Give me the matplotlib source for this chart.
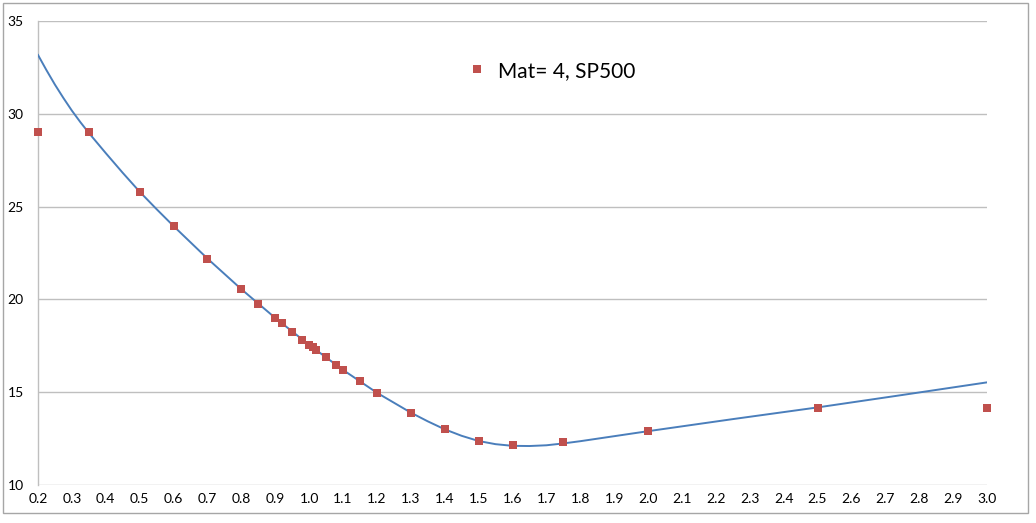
import matplotlib.pyplot as plt
from matplotlib.patches import Rectangle

# market points (red squares)
mkt_x = [0.2, 0.35, 0.5, 0.6, 0.7, 0.8, 0.85, 0.9, 0.92, 0.95, 0.98, 1.0, 1.01, 1.02,
         1.05, 1.08, 1.1, 1.15, 1.2, 1.3, 1.4, 1.5, 1.6, 1.75, 2.0, 2.5, 3.0]
mkt_y = [29.0, 29.0, 25.8, 23.95, 22.2, 20.55, 19.75, 19.0, 18.72, 18.25, 17.8, 17.52, 17.42, 17.27,
         16.88, 16.47, 16.2, 15.58, 14.97, 13.9, 13.02, 12.37, 12.17, 12.32, 12.91, 14.17, 14.17]

# fitted curve (blue line)
fit_x = [0.2, 0.225, 0.25, 0.275, 0.3, 0.325, 0.35, 0.4, 0.45, 0.5, 0.55, 0.6, 0.7, 0.8, 0.9,
         1.0, 1.1, 1.2, 1.3, 1.35, 1.4, 1.45, 1.5, 1.55, 1.6, 1.65, 1.7, 1.75, 1.8, 1.9,
         2.0, 2.25, 2.5, 2.75, 3.0]
fit_y = [33.17, 32.35, 31.57, 30.85, 30.17, 29.55, 28.97, 27.88, 26.82, 25.8, 24.86, 23.95, 22.2, 20.55, 19.0,
         17.55, 16.2, 14.97, 13.9, 13.43, 13.0, 12.65, 12.37, 12.2, 12.11, 12.1, 12.14, 12.24, 12.36, 12.63,
         12.9, 13.55, 14.18, 14.85, 15.53]

xticks = [round(0.2 + 0.1 * i, 1) for i in range(29)]
yticks = [10, 15, 20, 25, 30, 35]

plt.rcParams['font.family'] = ['Lato', 'DejaVu Sans']

fig = plt.figure(figsize=(10.36, 5.23), dpi=100)
ax = fig.add_axes([38 / 1036, 1 - 485 / 523, (987 - 38) / 1036, (485 - 21) / 523])

ax.plot(fit_x, fit_y, color='#4A7EBB', linewidth=1.4, zorder=3)
ax.plot(mkt_x, mkt_y, linestyle='none', marker='s', markersize=5.8, color='#C0504D',
        markeredgewidth=0, zorder=4, clip_on=False, label='Mat= 4, SP500')

ax.set_xlim(0.2, 3.0)
ax.set_ylim(10, 35)
ax.set_xticks(xticks)
ax.set_xticklabels([f'{t:.1f}' for t in xticks])
ax.set_yticks(yticks)
ax.tick_params(length=0, labelsize=10, colors='black')
ax.tick_params(axis='x', pad=6)
ax.tick_params(axis='y', pad=22)
for lab in ax.get_yticklabels():
    lab.set_horizontalalignment('left')

ax.grid(axis='y', color='#BFBFBF', linewidth=1)
ax.set_axisbelow(True)
for s in ['top', 'right', 'bottom']:
    ax.spines[s].set_visible(False)
ax.spines['left'].set_color('#BFBFBF')
ax.spines['left'].set_linewidth(1)

ax.legend(loc='upper left', bbox_to_anchor=(0.434, 0.955), frameon=False, fontsize=15,
          handlelength=0.8, handletextpad=0.6, markerscale=1.0)

# outer border of the chart
fig.patches.append(Rectangle((3 / 1036, 10 / 523), 1025 / 1036, 510 / 523, transform=fig.transFigure,
                             fill=False, edgecolor='#A6A6A6', linewidth=1))

fig.savefig('out.png', dpi=100)
